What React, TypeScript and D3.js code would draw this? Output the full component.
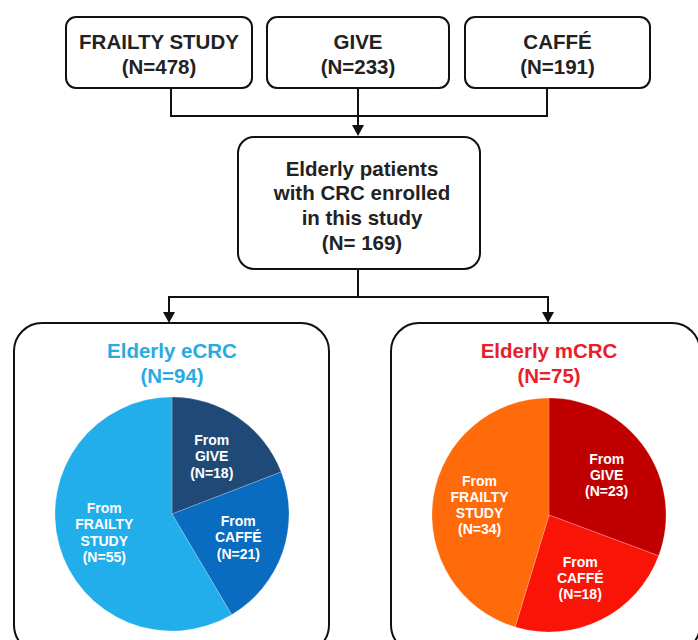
import React from "react";
import * as d3 from "d3";

const sourceNames = ["FRAILTY STUDY", "GIVE", "CAFFÉ"];
const sourceCounts = [478, 233, 191];
const totalEnrolled = 169;

const sliceNames = ["GIVE", "CAFFÉ", "FRAILTY STUDY"];
const ecrcValues = [18, 21, 55];
const mcrcValues = [23, 18, 34];
const ecrcColors = ["#1f4a78", "#0a6cc0", "#21aeea"];
const mcrcColors = ["#c00000", "#fa1408", "#ff6a0a"];

const FONT = "'Liberation Sans', Arial, sans-serif";

function Arrow({ x, y1, y2 }: { x: number; y1: number; y2: number }) {
  return (
    <g>
      <line x1={x} y1={y1} x2={x} y2={y2 - 9} stroke="#111" strokeWidth={2} />
      <path d={`M${x - 6},${y2 - 11} L${x + 6},${y2 - 11} L${x},${y2} Z`} fill="#111" />
    </g>
  );
}

function Pie({
  cx,
  cy,
  r,
  values,
  colors,
  lineH,
}: {
  cx: number;
  cy: number;
  r: number;
  values: number[];
  colors: string[];
  lineH: number;
}) {
  const pie = d3.pie<number>().sort(null).value((d) => d);
  const arcs = pie(values);
  const arc = d3.arc<d3.PieArcDatum<number>>().innerRadius(0).outerRadius(r);
  const labelArc = d3
    .arc<d3.PieArcDatum<number>>()
    .innerRadius(r * 0.6)
    .outerRadius(r * 0.6);
  return (
    <g transform={`translate(${cx},${cy})`}>
      {arcs.map((a, i) => (
        <path key={i} d={arc(a) || ""} fill={colors[i]} stroke="rgba(255,255,255,0.25)" strokeWidth={0.8} />
      ))}
      {arcs.map((a, i) => {
        const [lx, ly] = labelArc.centroid(a);
        const lines = ["From", ...sliceNames[i].split(" "), `(N=${values[i]})`];
        const y0 = ly - ((lines.length - 1) * lineH) / 2;
        return (
          <text
            key={"t" + i}
            x={lx}
            textAnchor="middle"
            fill="#fff"
            fontFamily={FONT}
            fontWeight="bold"
            fontSize={14}
          >
            {lines.map((l, j) => (
              <tspan key={j} x={lx} y={y0 + j * lineH} dominantBaseline="central">
                {l}
              </tspan>
            ))}
          </text>
        );
      })}
    </g>
  );
}

export default function App() {
  const topBoxes = [
    { x: 66, w: 186 },
    { x: 267, w: 182 },
    { x: 465, w: 185 },
  ];
  const ecrcTotal = d3.sum(ecrcValues);
  const mcrcTotal = d3.sum(mcrcValues);
  return (
    <svg
      width={698}
      height={640}
      style={{ position: "fixed", left: 0, top: 0, background: "#fff" }}
    >
      <rect x={0} y={0} width={698} height={640} fill="#fff" />
      {/* top boxes */}
      {topBoxes.map((b, i) => (
        <g key={i}>
          <rect x={b.x} y={17} width={b.w} height={71} rx={10} fill="#fff" stroke="#111" strokeWidth={2} />
          <text
            x={b.x + b.w / 2}
            y={41}
            textAnchor="middle"
            dominantBaseline="central"
            fontFamily={FONT}
            fontWeight="bold"
            fontSize={20.5}
            fill="#222"
          >
            {sourceNames[i]}
          </text>
          <text
            x={b.x + b.w / 2}
            y={66}
            textAnchor="middle"
            dominantBaseline="central"
            fontFamily={FONT}
            fontWeight="bold"
            fontSize={20.5}
            fill="#222"
          >
            {`(N=${sourceCounts[i]})`}
          </text>
        </g>
      ))}
      {/* connectors */}
      <polyline points="171,88 171,116 547,116 547,88" fill="none" stroke="#111" strokeWidth={2} />
      <Arrow x={358} y1={88} y2={136} />
      {/* center box */}
      <rect x={238} y={137} width={242} height={132} rx={16} fill="#fff" stroke="#111" strokeWidth={2} />
      {["Elderly patients", "with CRC enrolled", "in this study", `(N= ${totalEnrolled})`].map((t, i) => (
        <text
          key={i}
          x={362}
          y={168 + i * 24.7}
          textAnchor="middle"
          dominantBaseline="central"
          fontFamily={FONT}
          fontWeight="bold"
          fontSize={20.5}
          fill="#222"
        >
          {t}
        </text>
      ))}
      <line x1={358} y1={269} x2={358} y2={297} stroke="#111" strokeWidth={2} />
      <line x1={168} y1={297} x2={549} y2={297} stroke="#111" strokeWidth={2} />
      <Arrow x={169} y1={297} y2={323} />
      <Arrow x={548} y1={297} y2={323} />
      {/* big boxes */}
      <rect x={14} y={323} width={315} height={330} rx={28} fill="#fff" stroke="#111" strokeWidth={2} />
      <rect x={391} y={323} width={309} height={330} rx={28} fill="#fff" stroke="#111" strokeWidth={2} />
      <text x={172} y={350} textAnchor="middle" dominantBaseline="central" fontFamily={FONT} fontWeight="bold" fontSize={20.5} fill="#29abe2">
        Elderly eCRC
      </text>
      <text x={172} y={375} textAnchor="middle" dominantBaseline="central" fontFamily={FONT} fontWeight="bold" fontSize={20.5} fill="#29abe2">
        {`(N=${ecrcTotal})`}
      </text>
      <text x={549} y={350} textAnchor="middle" dominantBaseline="central" fontFamily={FONT} fontWeight="bold" fontSize={20.5} fill="#e8202a">
        Elderly mCRC
      </text>
      <text x={549} y={375} textAnchor="middle" dominantBaseline="central" fontFamily={FONT} fontWeight="bold" fontSize={20.5} fill="#e8202a">
        {`(N=${mcrcTotal})`}
      </text>
      <Pie cx={172} cy={514} r={117} values={ecrcValues} colors={ecrcColors} lineH={16.5} />
      <Pie cx={549} cy={515} r={117} values={mcrcValues} colors={mcrcColors} lineH={16} />
    </svg>
  );
}
